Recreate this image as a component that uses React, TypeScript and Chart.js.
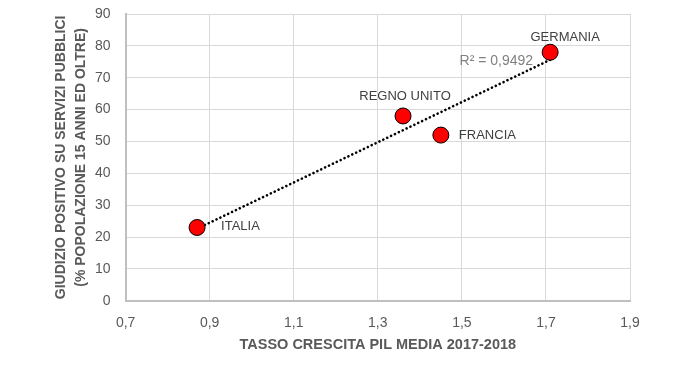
import React, { useEffect, useRef } from "react";
import { Chart, registerables } from "chart.js";

Chart.register(...registerables);

const countries = ["ITALIA", "REGNO UNITO", "FRANCIA", "GERMANIA"];
const growth = [0.87, 1.36, 1.45, 1.71];
const positive = [23, 58, 52, 78];
const xTicks = [0.7, 0.9, 1.1, 1.3, 1.5, 1.7, 1.9];
const yTicks = [0, 10, 20, 30, 40, 50, 60, 70, 80, 90];
const r2Text = "R² = 0,9492";

const FONT = "'Liberation Sans', Arial, sans-serif";

function fit(xs: number[], ys: number[]) {
  const n = xs.length;
  const mx = xs.reduce((a, b) => a + b, 0) / n;
  const my = ys.reduce((a, b) => a + b, 0) / n;
  let sxy = 0, sxx = 0;
  for (let i = 0; i < n; i++) {
    sxy += (xs[i] - mx) * (ys[i] - my);
    sxx += (xs[i] - mx) ** 2;
  }
  const b = sxy / sxx;
  return { a: my - b * mx, b };
}

// label placement relative to each point: [dx, dy, align]
const labelPlacement: [number, number, CanvasTextAlign][] = [
  [24, -1, "left"],
  [2, -20, "center"],
  [18, 0, "left"],
  [15, -15, "center"],
];

const labelPlugin = {
  id: "pointLabels",
  afterDatasetsDraw(chart: any) {
    const ctx = chart.ctx;
    const meta = chart.getDatasetMeta(1);
    ctx.save();
    ctx.font = `13px ${FONT}`;
    ctx.fillStyle = "#404040";
    ctx.textBaseline = "middle";
    meta.data.forEach((el: any, i: number) => {
      const [dx, dy, align] = labelPlacement[i];
      ctx.textAlign = align;
      ctx.fillText(countries[i], el.x + dx, el.y + dy);
    });
    const tmeta = chart.getDatasetMeta(0);
    const last = tmeta.data[tmeta.data.length - 1];
    ctx.font = `14px ${FONT}`;
    ctx.fillStyle = "#808080";
    ctx.textAlign = "right";
    ctx.fillText(r2Text, last.x - 17, last.y + 1);
    ctx.restore();
  },
};

export default function App() {
  const ref = useRef<HTMLCanvasElement>(null);
  useEffect(() => {
    document.body.style.margin = "0";
    const { a, b } = fit(growth, positive);
    const xmin = Math.min(...growth);
    const xmax = Math.max(...growth);
    const chart = new Chart(ref.current!, {
      type: "scatter",
      data: {
        datasets: [
          {
            type: "line",
            data: [
              { x: xmin, y: a + b * xmin },
              { x: xmax, y: a + b * xmax },
            ],
            borderColor: "#000000",
            borderWidth: 2.6,
            borderDash: [0.1, 4.2],
            borderCapStyle: "round",
            pointRadius: 0,
            fill: false,
            order: 2,
          } as any,
          {
            data: growth.map((x, i) => ({ x, y: positive[i] })),
            backgroundColor: "#ff0000",
            borderColor: "#000000",
            borderWidth: 1,
            pointRadius: 8,
            order: 1,
          },
        ],
      },
      options: {
        animation: false,
        responsive: false,
        layout: { autoPadding: false, padding: { top: 14, right: 70, bottom: 14, left: 51 } },
        plugins: { legend: { display: false }, tooltip: { enabled: false } },
        scales: {
          x: {
            type: "linear",
            min: 0.7,
            max: 1.9,
            afterBuildTicks: (s: any) => {
              s.ticks = xTicks.map((v) => ({ value: v }));
            },
            ticks: {
              color: "#595959",
              font: { family: FONT, size: 14 },
              padding: 14,
              callback: (v: any) => Number(v).toFixed(1).replace(".", ","),
            },
            grid: { color: "#d9d9d9", lineWidth: 1, drawTicks: false },
            border: { color: "#bfbfbf", width: 2 },
            title: {
              display: true,
              text: "TASSO CRESCITA PIL MEDIA 2017-2018",
              color: "#595959",
              font: { family: FONT, size: 14.5, weight: "bold" },
              padding: { top: -9, bottom: 0 },
            },
          },
          y: {
            min: 0,
            max: 90,
            afterBuildTicks: (s: any) => {
              s.ticks = yTicks.map((v) => ({ value: v }));
            },
            afterFit: (s: any) => {
              s.paddingTop = 0;
            },
            ticks: {
              color: "#595959",
              font: { family: FONT, size: 14 },
              padding: 15,
            },
            grid: { color: "#d9d9d9", lineWidth: 1, drawTicks: false },
            border: { color: "#bfbfbf", width: 2 },
            title: {
              display: true,
              text: ["GIUDIZIO POSITIVO SU SERVIZI PUBBLICI", "(% POPOLAZIONE 15 ANNI ED OLTRE)"],
              color: "#595959",
              font: { family: FONT, size: 14, weight: "bold", lineHeight: 1.43 },
              padding: { top: 0, bottom: -11 },
            },
          },
        },
      },
      plugins: [labelPlugin],
    });
    return () => chart.destroy();
  }, []);
  return <canvas ref={ref} width={700} height={368} style={{ display: "block" }} />;
}
